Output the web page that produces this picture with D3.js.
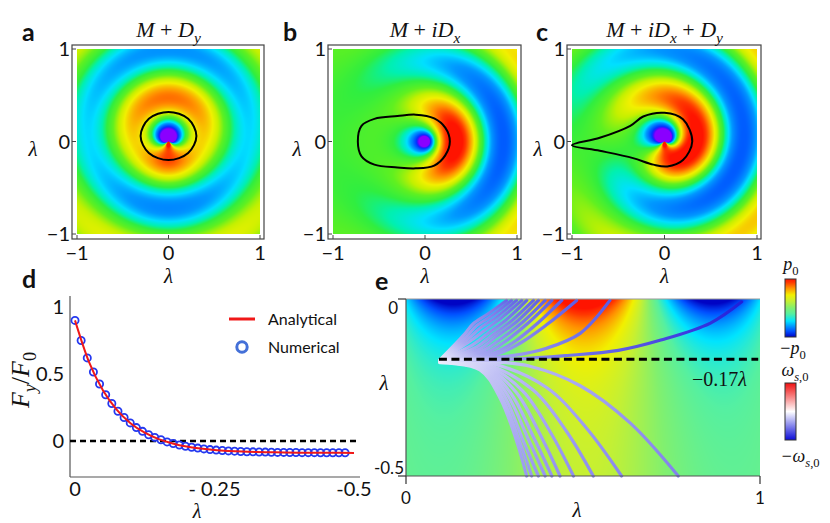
<!DOCTYPE html>
<html>
<head>
<meta charset="utf-8">
<script src="https://cdn.jsdelivr.net/npm/d3@7"></script>
<style>
  body { margin: 0; background: #fff; }
  text { fill: #111; }
  .tick { font-family: Lato, "Liberation Sans", sans-serif; font-size: 20px; }
  .tickE { font-family: Lato, "Liberation Sans", sans-serif; font-size: 17px; }
  .math { font-family: "Liberation Serif", "DejaVu Serif", serif; }
  .panel { font-family: Lato, "Liberation Sans", sans-serif; font-size: 25px; font-weight: bold; }
  .legend { font-family: Lato, "Liberation Sans", sans-serif; font-size: 16px; }
</style>
</head>
<body>
<svg id="fig" width="830" height="523"></svg>
<script>
// ---------- data ----------

// maps a-c : source strengths (monopole, i*dipole-x, dipole-y)
const mapTicks = [-1, 0, 1];
const mapM  = [1, 1, 1];
const mapDx = [0, 1, 1];
const mapDy = [1.1, 0, 1.1];
const mapK  = 6.3;     // wavenumber of the rings
const mapP0 = 0.95;    // value that maps to full red
const mapCore = 0.22;  // extra near-field pull of the source (purple core)
const mapCoreFade = 0.25;

// black closed contours drawn on a, b, c (lambda units)
const contourA = [[0, 0.32], [0.215, 0.245], [0.305, 0.06], [0.215, -0.125], [0, -0.2], [-0.215, -0.125], [-0.305, 0.06], [-0.215, 0.245]];
const contourB = [[-0.73, 0.0], [-0.69, 0.17], [-0.55, 0.245], [-0.3, 0.275], [-0.1, 0.29], [0.1, 0.25], [0.22, 0.15], [0.27, 0.0], [0.22, -0.15], [0.1, -0.26], [-0.1, -0.29], [-0.3, -0.28], [-0.55, -0.25], [-0.69, -0.16]];
const contourC = [[-1.0, -0.04], [-0.70, 0.04], [-0.37, 0.17], [-0.23, 0.27], [0, 0.31], [0.2, 0.24], [0.30, 0.0], [0.2, -0.2], [0.03, -0.27], [-0.12, -0.25], [-0.34, -0.18], [-0.70, -0.10]];

// panel d : force vs lambda
const forceLambda = [0, -0.011, -0.022, -0.033, -0.044, -0.055, -0.066, -0.077, -0.088, -0.099,
  -0.11, -0.121, -0.132, -0.143, -0.154, -0.165, -0.176, -0.187, -0.198, -0.209,
  -0.22, -0.231, -0.242, -0.253, -0.264, -0.275, -0.286, -0.297, -0.308, -0.319,
  -0.33, -0.341, -0.352, -0.363, -0.374, -0.385, -0.396, -0.407, -0.418, -0.429,
  -0.44, -0.451, -0.462, -0.473, -0.484];
const forceNumerical = [0.90, 0.75, 0.62, 0.515, 0.425, 0.345, 0.28, 0.222, 0.175, 0.135,
  0.10, 0.072, 0.047, 0.027, 0.009, -0.007, -0.019, -0.03, -0.039, -0.047,
  -0.053, -0.059, -0.064, -0.068, -0.071, -0.074, -0.076, -0.078, -0.08, -0.081,
  -0.082, -0.083, -0.084, -0.085, -0.085, -0.086, -0.086, -0.087, -0.087, -0.087,
  -0.088, -0.088, -0.088, -0.088, -0.088];
const analyticLambda = [0, -0.025, -0.05, -0.075, -0.1, -0.125, -0.15, -0.175, -0.2, -0.225,
  -0.25, -0.275, -0.3, -0.325, -0.35, -0.375, -0.4, -0.425, -0.45, -0.475, -0.5];
const forceAnalytical = [0.90, 0.59, 0.378, 0.232, 0.131, 0.062, 0.014, -0.018, -0.041, -0.056,
  -0.067, -0.074, -0.079, -0.082, -0.084, -0.086, -0.087, -0.087, -0.088, -0.088, -0.089];
const forceTicksY = [1, 0.5, 0];
const forceTickLabelsY = ["1", "0.5", "0"];
const forceTicksX = [0, -0.25, -0.5];
const forceTickLabelsX = ["0", "- 0.25", "-0.5"];

// panel e : surface wave field and particle paths
const eWaveLength = 0.72;   // distance between the two blue lobes
const eBlueAt = 0.14;       // centre of the first blue lobe
const eDecay = [0.085, 0.35];
const eThreshold = -0.17;
const eTicksX = [0, 1];
const eTicksY = [0, -0.5];
const upperPaths = [
  [[0.096, -0.172], [0.165, -0.100], [0.19, -0.070], [0.230, -0.043], [0.284, -0.004]],
  [[0.096, -0.173], [0.170, -0.107], [0.20, -0.075], [0.243, -0.047], [0.298, -0.004]],
  [[0.096, -0.173], [0.175, -0.113], [0.21, -0.082], [0.257, -0.050], [0.312, -0.004]],
  [[0.096, -0.174], [0.180, -0.120], [0.22, -0.090], [0.270, -0.053], [0.327, -0.004]],
  [[0.096, -0.174], [0.190, -0.128], [0.23, -0.098], [0.285, -0.057], [0.341, -0.004]],
  [[0.096, -0.174], [0.200, -0.135], [0.24, -0.105], [0.300, -0.060], [0.360, -0.004]],
  [[0.096, -0.175], [0.210, -0.140], [0.25, -0.110], [0.315, -0.062], [0.374, -0.004]],
  [[0.096, -0.175], [0.220, -0.145], [0.265, -0.115], [0.330, -0.065], [0.393, -0.004]],
  [[0.096, -0.175], [0.230, -0.150], [0.28, -0.120], [0.345, -0.068], [0.412, -0.004]],
  [[0.096, -0.175], [0.240, -0.155], [0.30, -0.125], [0.370, -0.070], [0.440, -0.004]],
  [[0.096, -0.175], [0.250, -0.158], [0.322, -0.125], [0.397, -0.073], [0.482, -0.004]],
  [[0.096, -0.175], [0.300, -0.160], [0.397, -0.139], [0.492, -0.097], [0.576, -0.004]],
  [[0.096, -0.175], [0.300, -0.170], [0.45, -0.160], [0.60, -0.145], [0.72, -0.116], [0.86, -0.068], [0.948, -0.008]]
];
const upperOmega = [-0.62, -0.62, -0.63, -0.63, -0.64, -0.64, -0.65, -0.65, -0.66, -0.66, -0.67, -0.68, -0.92];
const lowerPaths = [
  [[0.096, -0.180], [0.209, -0.200], [0.266, -0.280], [0.313, -0.403], [0.341, -0.5]],
  [[0.096, -0.179], [0.212, -0.198], [0.270, -0.276], [0.320, -0.400], [0.355, -0.5]],
  [[0.096, -0.179], [0.215, -0.196], [0.277, -0.272], [0.330, -0.398], [0.374, -0.5]],
  [[0.096, -0.178], [0.218, -0.194], [0.285, -0.268], [0.345, -0.395], [0.393, -0.5]],
  [[0.096, -0.178], [0.220, -0.192], [0.295, -0.265], [0.360, -0.390], [0.412, -0.5]],
  [[0.096, -0.177], [0.222, -0.190], [0.310, -0.262], [0.380, -0.385], [0.435, -0.5]],
  [[0.096, -0.177], [0.225, -0.188], [0.330, -0.260], [0.410, -0.380], [0.473, -0.5]],
  [[0.096, -0.176], [0.230, -0.186], [0.360, -0.258], [0.454, -0.375], [0.529, -0.5]],
  [[0.096, -0.176], [0.240, -0.182], [0.397, -0.250], [0.510, -0.365], [0.609, -0.5]],
  [[0.096, -0.175], [0.250, -0.178], [0.350, -0.190], [0.492, -0.245], [0.633, -0.350], [0.769, -0.5]]
];
const lowerOmega = [-0.42, -0.42, -0.43, -0.43, -0.44, -0.45, -0.46, -0.47, -0.49, -0.52];
const tipOmega = -0.07;

// colour maps
const mapStops  = [-1.25, -1.05, -0.9, -0.7, -0.5, -0.35, -0.2, -0.07, 0.12, 0.3, 0.45, 0.68, 0.88, 1.0];
const mapColors = ["#8a00ff", "#4010ff", "#0036ff", "#0060ff", "#0098ff", "#00e0ff", "#00f0b0", "#30ee40", "#60f020", "#c4f000", "#f2f000", "#ff9400", "#ff3a00", "#ff1400"];
const barStops  = [-1.0, -0.8, -0.45, -0.2, 0, 0.25, 0.45, 0.68, 0.88, 1.0];
const barColors = ["#0004c4", "#0050ff", "#00e4ff", "#56f0a0", "#80f070", "#c8f030", "#f2f000", "#ff9400", "#ff3a00", "#ff1400"];
const omegaStops = [-1, 0, 1];
const omegaColors = ["#0c0cd8", "#ffffff", "#f01010"];

// ---------- helpers ----------
const svg = d3.select("#fig");

// Bessel functions (Numerical Recipes rational approximations)
function bj0(x) {
  const ax = Math.abs(x);
  if (ax < 8) {
    const y = x * x;
    const a = 57568490574.0 + y * (-13362590354.0 + y * (651619640.7 + y * (-11214424.18 + y * (77392.33017 + y * (-184.9052456)))));
    const b = 57568490411.0 + y * (1029532985.0 + y * (9494680.718 + y * (59272.64853 + y * (267.8532712 + y))));
    return a / b;
  }
  const z = 8 / ax, y = z * z, xx = ax - 0.785398164;
  const a = 1.0 + y * (-0.1098628627e-2 + y * (0.2734510407e-4 + y * (-0.2073370639e-5 + y * 0.2093887211e-6)));
  const b = -0.1562499995e-1 + y * (0.1430488765e-3 + y * (-0.6911147651e-5 + y * (0.7621095161e-6 - y * 0.934935152e-7)));
  return Math.sqrt(0.636619772 / ax) * (Math.cos(xx) * a - z * Math.sin(xx) * b);
}
function bj1(x) {
  const ax = Math.abs(x);
  if (ax < 8) {
    const y = x * x;
    const a = x * (72362614232.0 + y * (-7895059235.0 + y * (242396853.1 + y * (-2972611.439 + y * (15704.48260 + y * (-30.16036606))))));
    const b = 144725228442.0 + y * (2300535178.0 + y * (18583304.74 + y * (99447.43394 + y * (376.9991397 + y))));
    return a / b;
  }
  const z = 8 / ax, y = z * z, xx = ax - 2.356194491;
  const a = 1.0 + y * (0.183105e-2 + y * (-0.3516396496e-4 + y * (0.2457520174e-5 + y * (-0.240337019e-6))));
  const b = 0.04687499995 + y * (-0.2002690873e-3 + y * (0.8449199096e-5 + y * (-0.88228987e-6 + y * 0.105787412e-6)));
  const r = Math.sqrt(0.636619772 / ax) * (Math.cos(xx) * a - z * Math.sin(xx) * b);
  return x < 0 ? -r : r;
}
function by0(x) {
  if (x < 8) {
    const y = x * x;
    const a = -2957821389.0 + y * (7062834065.0 + y * (-512359803.6 + y * (10879881.29 + y * (-86327.92757 + y * 228.4622733))));
    const b = 40076544269.0 + y * (745249964.8 + y * (7189466.438 + y * (47447.26470 + y * (226.1030244 + y))));
    return a / b + 0.636619772 * bj0(x) * Math.log(x);
  }
  const z = 8 / x, y = z * z, xx = x - 0.785398164;
  const a = 1.0 + y * (-0.1098628627e-2 + y * (0.2734510407e-4 + y * (-0.2073370639e-5 + y * 0.2093887211e-6)));
  const b = -0.1562499995e-1 + y * (0.1430488765e-3 + y * (-0.6911147651e-5 + y * (0.7621095161e-6 - y * 0.934935152e-7)));
  return Math.sqrt(0.636619772 / x) * (Math.sin(xx) * a + z * Math.cos(xx) * b);
}
function by1(x) {
  if (x < 8) {
    const y = x * x;
    const a = x * (-0.4900604943e13 + y * (0.1275274390e13 + y * (-0.5153438139e11 + y * (0.7349264551e9 + y * (-0.4237922726e7 + y * 0.8511937935e4)))));
    const b = 0.2499580570e14 + y * (0.4244419664e12 + y * (0.3733650367e10 + y * (0.2245904002e8 + y * (0.1020426050e6 + y * (0.3549632885e3 + y)))));
    return a / b + 0.636619772 * (bj1(x) * Math.log(x) - 1 / x);
  }
  const z = 8 / x, y = z * z, xx = x - 2.356194491;
  const a = 1.0 + y * (0.183105e-2 + y * (-0.3516396496e-4 + y * (0.2457520174e-5 + y * (-0.240337019e-6))));
  const b = 0.04687499995 + y * (-0.2002690873e-3 + y * (0.8449199096e-5 + y * (-0.88228987e-6 + y * 0.105787412e-6)));
  return Math.sqrt(0.636619772 / x) * (Math.sin(xx) * a + z * Math.cos(xx) * b);
}

// paint a field into an <image> covering the scales' ranges
function paintField(g, xs, ys, field, color) {
  const [x0, x1] = xs.range(), [yb, yt] = ys.range();
  const w = Math.round(x1 - x0), h = Math.round(yb - yt), ss = 2;
  const lut = d3.range(0, 1024).map(i => d3.rgb(color(-1.6 + 2.8 * i / 1023)));
  const cv = document.createElement("canvas");
  cv.width = w * ss; cv.height = h * ss;
  const ctx = cv.getContext("2d");
  const img = ctx.createImageData(cv.width, cv.height);
  for (let j = 0; j < cv.height; j++) {
    const dy = ys.invert(yt + (j + 0.5) / ss);
    for (let i = 0; i < cv.width; i++) {
      const dx = xs.invert(x0 + (i + 0.5) / ss);
      const v = Math.max(-1.6, Math.min(1.2, field(dx, dy)));
      const c = lut[Math.round((v + 1.6) / 2.8 * 1023)];
      const o = (j * cv.width + i) * 4;
      img.data[o] = c.r; img.data[o + 1] = c.g; img.data[o + 2] = c.b; img.data[o + 3] = 255;
    }
  }
  ctx.putImageData(img, 0, 0);
  g.append("image").attr("x", x0).attr("y", yt).attr("width", w).attr("height", h)
    .attr("preserveAspectRatio", "none").attr("href", cv.toDataURL());
}

// italic maths text built from pieces: [text, italic?, sub?]
function mathText(sel, pieces, size) {
  const t = sel.attr("class", "math").style("font-size", size + "px");
  let inSub = false;
  pieces.forEach(([s, it, sub]) => {
    const sp = t.append("tspan").text(s).style("font-style", it ? "italic" : "normal");
    if (sub && !inSub) sp.attr("dy", size * 0.28).style("font-size", (size * 0.7) + "px");
    else if (sub) sp.style("font-size", (size * 0.7) + "px");
    else if (!sub && inSub) sp.attr("dy", -size * 0.28);
    inSub = !!sub;
  });
  return t;
}

const mapColor = d3.scaleLinear().domain(mapStops).range(mapColors).clamp(true);
const barColor = d3.scaleLinear().domain(barStops).range(barColors).clamp(true);
const omegaColor = d3.scaleLinear().domain(omegaStops).range(omegaColors).clamp(true);
const defs = svg.append("defs");

// ---------- panels a, b, c ----------
const mapRanges = [[77, 260], [333, 517], [572, 757]];
const mapTitles = [
  [["M", true], [" + ", false], ["D", true], ["y", true, true]],
  [["M", true], [" + ", false], ["iD", true], ["x", true, true]],
  [["M", true], [" + ", false], ["iD", true], ["x", true, true], [" + ", false], ["D", true], ["y", true, true]]
];
const contours = [contourA, contourB, contourC];
const panelLetters = ["a", "b", "c"];
const letterX = [22, 283, 536];
const yLabelX = [33, 297, 538];

mapRanges.forEach((rx, p) => {
  const xs = d3.scaleLinear().domain([-1, 1]).range(rx);
  const ys = d3.scaleLinear().domain([-1, 1]).range([234, 49]);
  const g = svg.append("g");
  const M = mapM[p], Dx = mapDx[p], Dy = mapDy[p];
  paintField(g, xs, ys, (x, y) => {
    const r = Math.max(Math.hypot(x, y), 0.003);
    const kr = mapK * r;
    const core = mapCore * Math.exp(-r / mapCoreFade) / kr;
    return (M * (by0(kr) - core) + Dx * bj1(kr) * x / r + Dy * by1(kr) * y / r) / mapP0;
  }, mapColor);

  // frame
  g.append("rect").attr("x", rx[0] - 5).attr("y", 45).attr("width", rx[1] - rx[0] + 9).attr("height", 194)
    .attr("fill", "none").attr("stroke", "#444").attr("stroke-width", 1.2);
  mapTicks.forEach(t => {
    g.append("line").attr("x1", xs(t)).attr("x2", xs(t)).attr("y1", 239).attr("y2", 235).attr("stroke", "#444");
    g.append("line").attr("x1", rx[0] - 5).attr("x2", rx[0] - 1).attr("y1", ys(t)).attr("y2", ys(t)).attr("stroke", "#444");
    g.append("text").attr("class", "tick").attr("x", xs(t)).attr("y", 260).attr("text-anchor", "middle")
      .text(t < 0 ? "\u2212" + Math.abs(t) : t);
    g.append("text").attr("class", "tick").attr("x", rx[0] - 7).attr("y", ys(t)).attr("dy", "0.36em")
      .attr("text-anchor", "end").text(t < 0 ? "\u2212" + Math.abs(t) : t);
  });

  // contour
  g.append("path").datum(contours[p])
    .attr("d", d3.line().x(d => xs(d[0])).y(d => ys(d[1])).curve(d3.curveCatmullRomClosed.alpha(0.5)))
    .attr("fill", "none").attr("stroke", "#000").attr("stroke-width", 2);

  // labels
  mathText(g.append("text").attr("x", xs(0)).attr("y", 37).attr("text-anchor", "middle"), mapTitles[p], 22);
  mathText(g.append("text").attr("x", xs(0)).attr("y", 283).attr("text-anchor", "middle"), [["λ", true]], 21);
  mathText(g.append("text").attr("x", yLabelX[p]).attr("y", 156).attr("text-anchor", "middle"), [["λ", true]], 21);
  g.append("text").attr("class", "panel").attr("x", letterX[p]).attr("y", 41).text(panelLetters[p]);
});

// ---------- panel d ----------
const xD = d3.scaleLinear().domain([0, -0.5]).range([75, 354]);
const yD = d3.scaleLinear().domain([0, 1]).range([441, 307]);
const gD = svg.append("g");
gD.append("line").attr("x1", 70).attr("x2", 70).attr("y1", 296).attr("y2", 477).attr("stroke", "#555").attr("stroke-width", 1.2);
gD.append("line").attr("x1", 70).attr("x2", 360).attr("y1", 477).attr("y2", 477).attr("stroke", "#555").attr("stroke-width", 1.2);
forceTicksY.forEach((t, i) => {
  gD.append("text").attr("class", "tick").attr("x", 64).attr("y", yD(t)).attr("dy", "0.36em")
    .attr("text-anchor", "end").text(forceTickLabelsY[i]);
});
forceTicksX.forEach((t, i) => {
  gD.append("text").attr("class", "tick").attr("x", xD(t)).attr("y", 496).attr("text-anchor", "middle")
    .text(forceTickLabelsX[i]);
});
gD.append("line").attr("x1", 70).attr("x2", 360).attr("y1", yD(0)).attr("y2", yD(0))
  .attr("stroke", "#000").attr("stroke-width", 2.6).attr("stroke-dasharray", "6,4");
gD.selectAll("circle.num").data(forceLambda).enter().append("circle").attr("class", "num")
  .attr("cx", d => xD(d)).attr("cy", (d, i) => yD(forceNumerical[i])).attr("r", 3.6)
  .attr("fill", "none").attr("stroke", "#2438f0").attr("stroke-width", 1.8);
gD.append("path").datum(analyticLambda.map((l, i) => [l, forceAnalytical[i]]))
  .attr("d", d3.line().x(d => xD(d[0])).y(d => yD(d[1])).curve(d3.curveMonotoneX))
  .attr("fill", "none").attr("stroke", "#f01818").attr("stroke-width", 2);
// legend
gD.append("line").attr("x1", 229).attr("x2", 255).attr("y1", 319).attr("y2", 319).attr("stroke", "#f01818").attr("stroke-width", 3);
gD.append("text").attr("class", "legend").attr("x", 268).attr("y", 325).text("Analytical");
gD.append("circle").attr("cx", 242).attr("cy", 347).attr("r", 5.2).attr("fill", "none").attr("stroke", "#4470d8").attr("stroke-width", 3);
gD.append("text").attr("class", "legend").attr("x", 268).attr("y", 353).text("Numerical");
mathText(gD.append("text").attr("x", 197).attr("y", 518).attr("text-anchor", "middle"), [["λ", true]], 20);
mathText(gD.append("text").attr("transform", "translate(29,380) rotate(-90)").attr("text-anchor", "middle"),
  [["F", true], ["y", true, true], ["/", false], ["F", true], ["0", false, true]], 26);
gD.append("text").attr("class", "panel").attr("x", 22).attr("y", 288).text("d");

// ---------- panel e ----------
const xE = d3.scaleLinear().domain([0, 1]).range([406, 760]);
const yE = d3.scaleLinear().domain([-0.5, 0]).range([476, 299]);
const gE = svg.append("g");
paintField(gE, xE, yE, (x, y) => {
  const d = -y;
  const wave = -Math.cos(2 * Math.PI * (x - eBlueAt) / eWaveLength);
  const v = wave * (0.8 * Math.exp(-d / eDecay[0]) + 0.26 * Math.exp(-d / eDecay[1]))
    - 0.12 + 0.3 * Math.exp(-Math.pow((x - 0.52) / 0.26, 2));
  return Math.max(v, -1.0);
}, barColor);

// particle paths, coloured from near-zero vorticity at the tip to their end value
const lineE = d3.line().x(d => xE(d[0])).y(d => yE(d[1])).curve(d3.curveCatmullRom.alpha(0.5));
const allPaths = lowerPaths.map((pts, i) => ({pts, w: lowerOmega[i]}))
  .concat(upperPaths.map((pts, i) => ({pts, w: upperOmega[i]})));
allPaths.forEach((d, i) => {
  const a = d.pts[0], b = d.pts[d.pts.length - 1];
  const gr = defs.append("linearGradient").attr("id", "tr" + i).attr("gradientUnits", "userSpaceOnUse")
    .attr("x1", xE(a[0])).attr("y1", yE(a[1])).attr("x2", xE(b[0])).attr("y2", yE(b[1]));
  gr.append("stop").attr("offset", 0).attr("stop-color", omegaColor(tipOmega));
  gr.append("stop").attr("offset", 0.3).attr("stop-color", omegaColor((tipOmega + d.w) * 0.5));
  gr.append("stop").attr("offset", 1).attr("stop-color", omegaColor(d.w));
  gE.append("path").datum(d.pts).attr("d", lineE).attr("fill", "none")
    .attr("stroke", "url(#tr" + i + ")").attr("stroke-width", 3.2).attr("stroke-linecap", "round");
});

gE.append("line").attr("x1", xE(0.093)).attr("x2", xE(0.995)).attr("y1", yE(eThreshold)).attr("y2", yE(eThreshold))
  .attr("stroke", "#000").attr("stroke-width", 3).attr("stroke-dasharray", "8,4.5");
mathText(gE.append("text").attr("x", 747).attr("y", 386).attr("text-anchor", "end"), [["\u22120.17", false], ["λ", true]], 20);

// frame
gE.append("line").attr("x1", 406).attr("x2", 760).attr("y1", 299).attr("y2", 299).attr("stroke", "#999").attr("stroke-width", 1.2);
gE.append("line").attr("x1", 406).attr("x2", 406).attr("y1", 299).attr("y2", 476).attr("stroke", "#555").attr("stroke-width", 1.2);
gE.append("line").attr("x1", 406).attr("x2", 760).attr("y1", 476).attr("y2", 476).attr("stroke", "#555").attr("stroke-width", 1.2);
eTicksY.forEach(t => {
  gE.append("line").attr("x1", 398).attr("x2", 406).attr("y1", yE(t)).attr("y2", yE(t)).attr("stroke", "#333").attr("stroke-width", 1.2);
});
eTicksX.forEach(t => {
  gE.append("line").attr("x1", xE(t)).attr("x2", xE(t)).attr("y1", 476).attr("y2", 484).attr("stroke", "#333").attr("stroke-width", 1.2);
  gE.append("text").attr("class", "tickE").attr("x", xE(t)).attr("y", 504).attr("text-anchor", "middle").text(t);
});
gE.append("text").attr("class", "tickE").attr("x", 398).attr("y", 314).attr("text-anchor", "end").text("0");
gE.append("text").attr("class", "tickE").attr("x", 404).attr("y", 474).attr("text-anchor", "end").text("-0.5");
mathText(gE.append("text").attr("x", 577).attr("y", 517).attr("text-anchor", "middle"), [["λ", true]], 21);
mathText(gE.append("text").attr("x", 384).attr("y", 390).attr("text-anchor", "middle"), [["λ", true]], 21);
gE.append("text").attr("class", "panel").attr("x", 375).attr("y", 290).text("e");

// ---------- colour bars ----------
const pGrad = defs.append("linearGradient").attr("id", "pbar").attr("x1", 0).attr("x2", 0).attr("y1", 1).attr("y2", 0);
barStops.forEach((s, i) => pGrad.append("stop").attr("offset", (s + 1) / 2).attr("stop-color", barColors[i]));
svg.append("rect").attr("x", 785).attr("y", 279).attr("width", 11).attr("height", 58)
  .attr("fill", "url(#pbar)").attr("stroke", "#333").attr("stroke-width", 1);
const wGrad = defs.append("linearGradient").attr("id", "wbar").attr("x1", 0).attr("x2", 0).attr("y1", 1).attr("y2", 0);
omegaStops.forEach((s, i) => wGrad.append("stop").attr("offset", (s + 1) / 2).attr("stop-color", omegaColors[i]));
svg.append("rect").attr("x", 785).attr("y", 383).attr("width", 11).attr("height", 57)
  .attr("fill", "url(#wbar)").attr("stroke", "#333").attr("stroke-width", 1);
mathText(svg.append("text").attr("x", 791).attr("y", 270).attr("text-anchor", "middle"), [["p", true], ["0", false, true]], 18);
mathText(svg.append("text").attr("x", 793).attr("y", 354).attr("text-anchor", "middle"), [["\u2212", false], ["p", true], ["0", false, true]], 18);
mathText(svg.append("text").attr("x", 795).attr("y", 376).attr("text-anchor", "middle"), [["ω", true], ["s", true, true], [",0", false, true]], 18);
mathText(svg.append("text").attr("x", 800).attr("y", 462).attr("text-anchor", "middle"), [["\u2212ω", true], ["s", true, true], [",0", false, true]], 18);
</script>
</body>
</html>
